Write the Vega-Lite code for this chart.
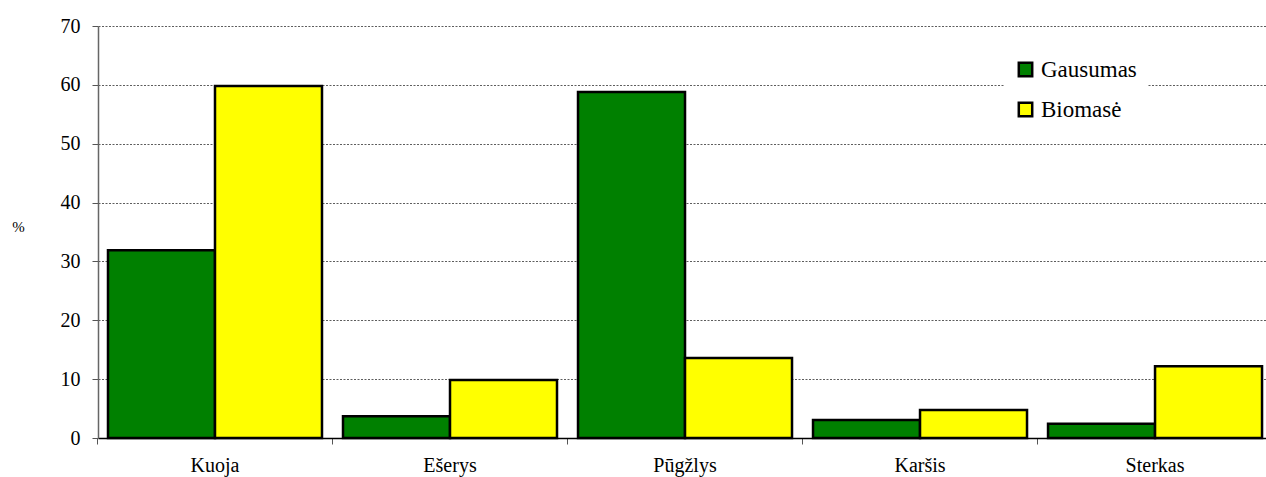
{
  "$schema": "https://vega.github.io/schema/vega-lite/v6.json",
  "autosize": {"type": "none"},
  "width": 1168,
  "height": 412,
  "padding": {"left": 98, "top": 26, "right": 0, "bottom": 39},
  "background": "white",
  "config": {
    "view": {"stroke": null},
    "font": "Liberation Serif"
  },
  "data": {
    "values": [
      {"fish": "Kuoja", "series": "Gausumas", "value": 31.9},
      {"fish": "Kuoja", "series": "Biomasė", "value": 59.8},
      {"fish": "Ešerys", "series": "Gausumas", "value": 3.7},
      {"fish": "Ešerys", "series": "Biomasė", "value": 9.85},
      {"fish": "Pūgžlys", "series": "Gausumas", "value": 58.8},
      {"fish": "Pūgžlys", "series": "Biomasė", "value": 13.6},
      {"fish": "Karšis", "series": "Gausumas", "value": 3.05},
      {"fish": "Karšis", "series": "Biomasė", "value": 4.75},
      {"fish": "Sterkas", "series": "Gausumas", "value": 2.4},
      {"fish": "Sterkas", "series": "Biomasė", "value": 12.2}
    ]
  },
  "mark": {"type": "bar", "stroke": "black", "strokeWidth": 2.5, "strokeJoin": "miter"},
  "encoding": {
    "x": {
      "field": "fish",
      "type": "nominal",
      "sort": null,
      "scale": {"paddingInner": 0.0894, "paddingOuter": 0.0297, "align": 0.716},
      "axis": {
        "title": null,
        "labelAngle": 0,
        "labelFont": "Liberation Serif",
        "labelFontSize": 20,
        "labelColor": "black",
        "labelPadding": 11,
        "bandPosition": -0.049,
        "tickSize": 6,
        "tickColor": "#555",
        "domainColor": "black",
        "domainWidth": 1.5,
        "grid": false
      }
    },
    "xOffset": {
      "field": "series",
      "type": "nominal",
      "sort": ["Gausumas", "Biomasė"],
      "scale": {"paddingInner": 0, "paddingOuter": 0}
    },
    "y": {
      "field": "value",
      "type": "quantitative",
      "scale": {"domain": [0, 70], "nice": false},
      "axis": {
        "values": [0, 10, 20, 30, 40, 50, 60, 70],
        "title": "%",
        "titleAngle": 0,
        "titleX": -80,
        "titleY": 200,
        "titleAlign": "center",
        "titleBaseline": "middle",
        "titleFont": "Liberation Serif",
        "titleFontSize": 15,
        "titleFontWeight": "normal",
        "titleColor": "black",
        "labelFont": "Liberation Serif",
        "labelFontSize": 20,
        "labelColor": "black",
        "labelPadding": 12,
        "tickSize": 6,
        "tickColor": "#555",
        "domainColor": "#666",
        "domainWidth": 1.5,
        "grid": true,
        "gridColor": "black",
        "gridDash": [2, 1.5],
        "gridWidth": 0.8,
        "gridOpacity": 0.8
      }
    },
    "color": {
      "field": "series",
      "type": "nominal",
      "scale": {"domain": ["Gausumas", "Biomasė"], "range": ["#008000", "#FFFF00"]},
      "legend": {
        "title": null,
        "orient": "none",
        "legendX": 906,
        "legendY": 22,
        "padding": 10,
        "fillColor": "white",
        "symbolType": "square",
        "symbolSize": 180,
        "symbolStrokeColor": "black",
        "symbolStrokeWidth": 2.5,
        "labelFont": "Liberation Serif",
        "labelFontSize": 23,
        "labelColor": "black",
        "labelOffset": 4,
        "rowPadding": 15,
        "labelLimit": 300
      }
    }
  }
}
